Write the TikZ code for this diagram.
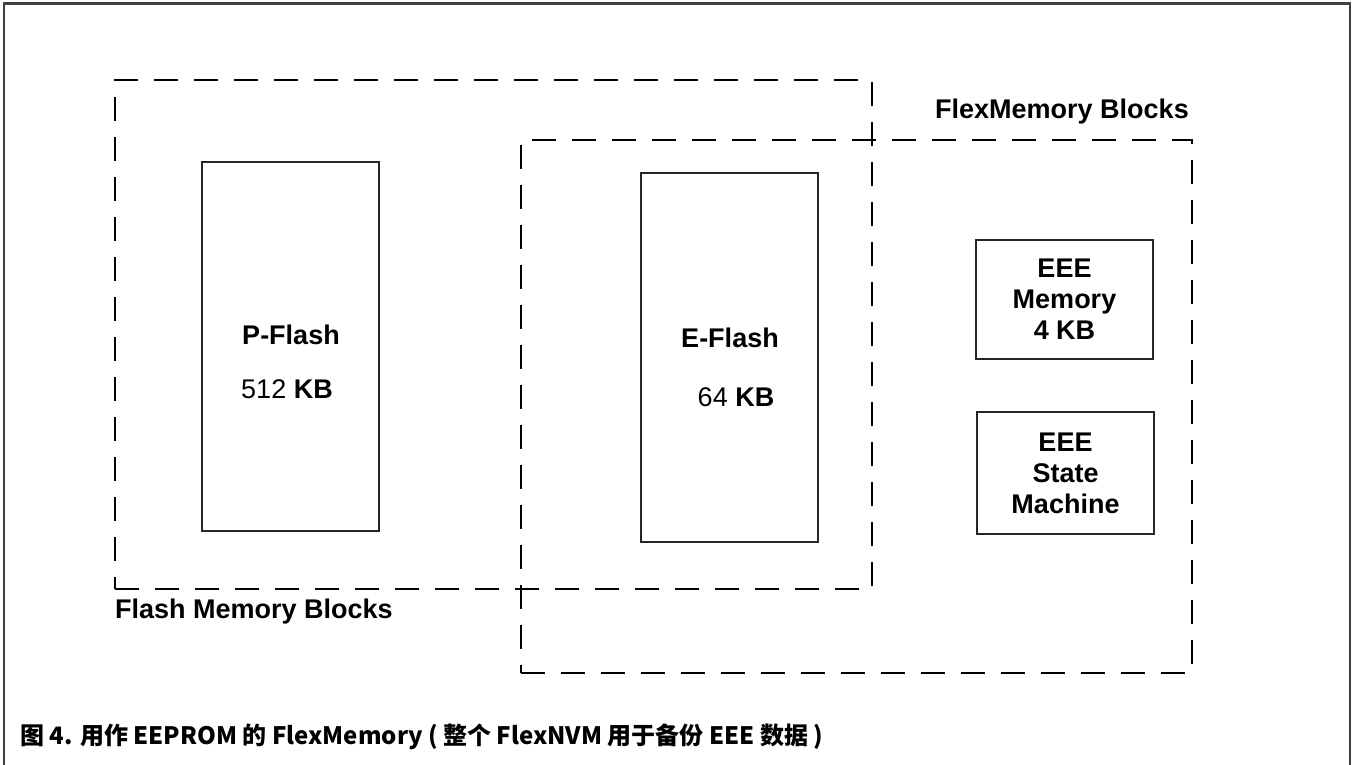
\documentclass[tikz,border=0pt]{standalone}
\usepackage{fontspec}
\setmainfont{Liberation Sans}
\newfontfamily\cjk{Noto Sans CJK SC}
\usepackage{xcolor}
\definecolor{frgray}{HTML}{404040}
\usepackage{tikz}
\usetikzlibrary{positioning}
\tikzset{
  every picture/.style={line join=miter},
  frame/.style={frgray, line width=2.6pt},
  region/.style={draw=black, line width=1.8pt, dash pattern=on 24pt off 16pt,
    rectangle, inner sep=0pt},
  memblk/.style={draw=black!85, line width=1.5pt, rectangle, inner sep=0pt},
  lbl/.style={font=\fontsize{27}{31}\selectfont\bfseries, text=black, inner sep=0pt},
  num/.style={font=\fontsize{27}{31}\selectfont, text=black, inner sep=0pt},
}

\begin{document}
\begin{tikzpicture}[x=1pt, y=-1pt]
\useasboundingbox (0,0) rectangle (1352,765);
\fill[white] (0,0) rectangle (1352,765);
% open frame round the figure
\draw[frame] (4,766) -- (4,3.5) -- (1350,3.5) -- (1350,766);

% ------------------------------------------------------------------ regions
\node[region, minimum width=757, minimum height=509] (flashblk) at (493.5,334.5) {};
\node[region, minimum width=671, minimum height=533] (flexblk) at (856.5,406.5) {};
\node[lbl, anchor=north west] (flashlbl) at (115,599) {Flash Memory Blocks};
\node[lbl] (flexlbl) at (1062,112) {FlexMemory Blocks};

% ------------------------------------------------------------------ blocks
\node[memblk, minimum width=177, minimum height=369] (pflash) at (290.5,346.5) {};
\node[lbl] (pname) at (291,335) {P-Flash};
\node[num] (psize) at (287,389) {512 \textbf{KB}};

\node[memblk, minimum width=177, minimum height=369] (eflash) at (729.5,357.5) {};
\node[lbl] (ename) at (730,338) {E-Flash};
\node[num] (esize) at (736,397) {64 \textbf{KB}};

\node[memblk, minimum width=177, minimum height=119, align=center, lbl]
  (eeemem) at (1064.5,299.5) {EEE\\Memory\\4 KB};
\node[memblk, minimum width=177, minimum height=122, align=center, lbl]
  (eeesm) at (1065.5,473) {EEE\\State\\Machine};

% caption
\node[font=\cjk\fontsize{24}{28}\selectfont\bfseries, anchor=west, inner sep=0pt]
  (caption) at (20,737) {图 4. 用作 EEPROM 的 FlexMemory ( 整个 FlexNVM 用于备份 EEE 数据 )};
\end{tikzpicture}
\end{document}
